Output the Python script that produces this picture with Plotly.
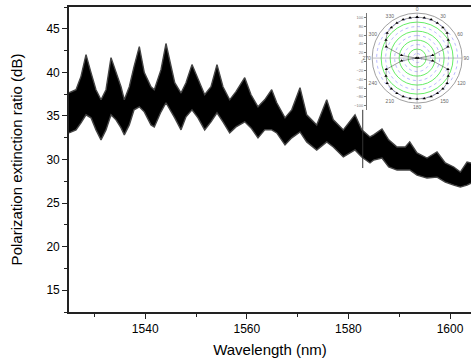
import numpy as np
import plotly.graph_objects as go

# ---- main trace: upper / lower envelope of the noisy extinction-ratio band
wavelength = [1525.0, 1526.38, 1527.36, 1528.35, 1529.33, 1530.31, 1531.30, 1532.28, 1533.27, 1534.25,
              1535.24, 1535.89, 1536.87, 1537.80, 1538.84, 1539.82, 1541.14, 1541.79, 1543.11, 1544.09,
              1545.81, 1547.05, 1548.03, 1549.21, 1550.39, 1551.71, 1552.95, 1554.13, 1555.31, 1556.63,
              1557.87, 1559.59, 1560.83, 1562.20, 1563.52, 1564.90, 1565.89, 1567.52, 1568.84, 1570.47,
              1571.79, 1573.76, 1575.73, 1577.03, 1579.00, 1581.30, 1582.62, 1584.25, 1584.98, 1586.61,
              1587.93, 1589.57, 1591.20, 1592.07, 1593.50, 1595.47, 1597.44, 1599.07, 1600.73, 1602.03,
              1603.35, 1604.13]
upper = [37.66, 38.01, 39.54, 42.04, 39.97, 38.01, 36.85, 38.01, 41.69, 39.97,
         38.35, 36.85, 38.35, 40.66, 42.96, 39.97, 38.35, 38.01, 40.31, 43.31,
         38.81, 37.63, 38.81, 40.89, 39.16, 37.43, 38.35, 40.89, 38.35, 36.85,
         37.78, 39.39, 37.43, 36.05, 36.85, 38.01, 36.51, 34.78, 35.70, 38.24,
         35.13, 33.97, 36.85, 34.55, 33.40, 35.13, 33.40, 32.59, 32.82, 33.51,
         32.25, 31.44, 31.44, 32.02, 30.75, 30.17, 30.86, 29.60, 29.14, 28.56,
         29.71, 29.60]
lower = [33.05, 33.40, 34.21, 35.13, 34.78, 33.40, 32.25, 33.40, 35.13, 34.55,
         33.63, 32.82, 33.97, 35.70, 36.05, 35.47, 33.97, 33.74, 35.47, 36.51,
         34.78, 33.40, 34.90, 35.70, 34.78, 33.40, 34.32, 35.36, 34.32, 33.05,
         33.74, 34.32, 33.63, 32.48, 33.40, 33.40, 33.05, 31.67, 32.48, 33.17,
         32.02, 31.09, 32.02, 31.44, 30.29, 31.09, 30.29, 29.60, 29.94, 30.17,
         29.14, 28.79, 28.79, 28.79, 28.21, 27.87, 27.98, 27.41, 27.06, 26.83,
         27.06, 27.29]
# isolated glitch spike
spike_wl = [1582.82, 1582.82]
spike_val = [35.70, 29.02]

# ---- inset: polar dipole pattern (angle in deg, relative power)
polar_theta = list(range(0, 360, 10))
polar_r = [91, 91, 91, 90, 89, 87, 80, 73, 35, 2,
           35, 73, 80, 87, 89, 90, 91, 91, 91, 91,
           91, 90, 89, 87, 80, 73, 35, 2, 35, 73,
           80, 87, 89, 90, 91, 91]
green_rings = [20, 40, 60, 80, 100]
blue_rings = [10, 30, 50, 70, 90]
angle_ticks = list(range(0, 360, 30))

fig = go.Figure()

edge = dict(color="#444444", width=1.4)
fig.add_trace(go.Scatter(x=wavelength, y=lower, mode="lines",
                         line=edge, showlegend=False, hoverinfo="skip"))
fig.add_trace(go.Scatter(x=wavelength, y=upper, mode="lines", fill="tonexty",
                         fillcolor="#000000", line=edge, showlegend=False))
fig.add_trace(go.Scatter(x=spike_wl, y=spike_val, mode="lines",
                         line=dict(color="#333333", width=1), showlegend=False))

circ = np.linspace(0, 360, 121)
for rr in blue_rings:
    fig.add_trace(go.Scatterpolar(theta=circ, r=[rr] * len(circ), mode="lines",
                                  line=dict(color="#8a8aff", width=0.6, dash="dot"),
                                  showlegend=False, hoverinfo="skip", subplot="polar"))
for th in [0, 90]:
    fig.add_trace(go.Scatterpolar(theta=[th, th, th + 180], r=[100, 0, 100], mode="lines",
                                  line=dict(color="#9090a0", width=0.6),
                                  showlegend=False, hoverinfo="skip", subplot="polar"))
fig.add_trace(go.Scatterpolar(theta=polar_theta + [polar_theta[0]], r=polar_r + [polar_r[0]],
                              mode="lines+markers",
                              line=dict(color="#555555", width=0.6),
                              marker=dict(symbol="triangle-up", size=3, color="#000000"),
                              showlegend=False, subplot="polar"))

# invisible helper trace for the inset's linear radial scale
fig.add_trace(go.Scatter(x=[0, 1], y=[-110, 110], mode="markers", marker=dict(opacity=0),
                         xaxis="x2", yaxis="y2", showlegend=False, hoverinfo="skip"))

axis_font = dict(family="Liberation Sans, Arial, sans-serif", size=12, color="#000000")

fig.update_layout(
    width=471, height=360,
    margin=dict(l=69, r=0, t=7, b=48),
    font=dict(family="Liberation Sans, Arial, sans-serif", color="#000000"),
    paper_bgcolor="white", plot_bgcolor="white",
    xaxis=dict(range=[1525, 1604.13], domain=[0, 1], showgrid=False, zeroline=False,
               showline=True, linecolor="#222222", linewidth=1.6, mirror=True,
               ticks="outside", ticklen=5, tickwidth=1, tickcolor="#222222",
               tick0=1540, dtick=20, tickfont=axis_font,
               minor=dict(ticks="outside", ticklen=3, tick0=1530, dtick=20, tickcolor="#222222"),
               title=dict(text="Wavelength (nm)", standoff=9,
                          font=dict(family="Liberation Sans, Arial, sans-serif", size=15, color="#000000"))),
    yaxis=dict(range=[12.5, 47.5], showgrid=False, zeroline=False,
               showline=True, linecolor="#222222", linewidth=1.6,
               ticks="outside", ticklen=5, tickwidth=1, tickcolor="#222222",
               tick0=15, dtick=5, tickfont=axis_font,
               minor=dict(ticks="outside", ticklen=3, tick0=12.5, dtick=5, tickcolor="#222222"),
               title=dict(text="Polarization extinction ratio (dB)", standoff=20,
                          font=dict(family="Liberation Sans, Arial, sans-serif", size=15, color="#000000"))),
    xaxis2=dict(domain=[0.741, 0.742], anchor="y2", visible=False, range=[0, 1]),
    yaxis2=dict(domain=[0.662, 0.98], anchor="x2", side="left", range=[-110, 110],
                showgrid=False, zeroline=False, showline=True, linecolor="#777777", linewidth=0.8,
                ticks="outside", ticklen=2, tickcolor="#777777", dtick=20,
                tickfont=dict(size=4, color="#777777")),
    polar=dict(
        domain=dict(x=[0.754, 0.978], y=[0.685, 0.98]),
        bgcolor="white",
        radialaxis=dict(range=[0, 100], showticklabels=False, ticks="", showline=False,
                        tickvals=green_rings, gridcolor="#66ee66", gridwidth=0.8),
        angularaxis=dict(rotation=90, direction="clockwise", tickvals=angle_ticks,
                         ticks="", showgrid=False, linecolor="#888888", linewidth=0.8,
                         tickfont=dict(size=5, color="#666666")),
    ),
)

fig.write_html("out.html")
